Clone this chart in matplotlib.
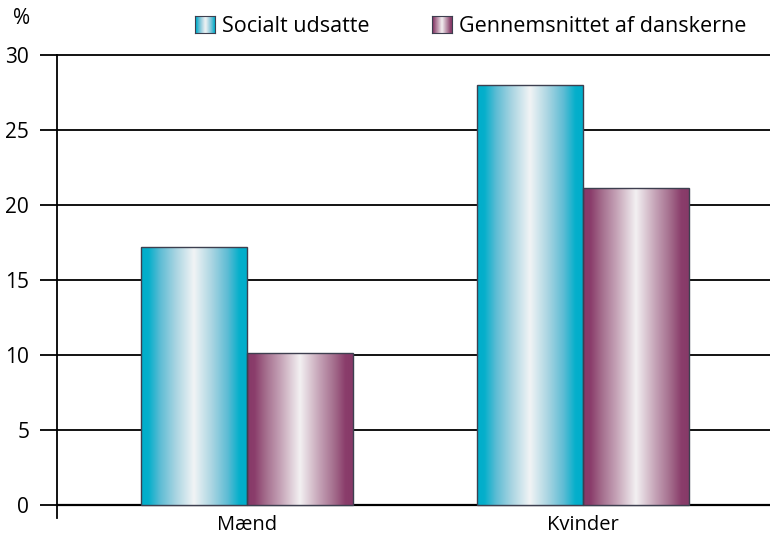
import numpy as np
import matplotlib
matplotlib.use("Agg")
import matplotlib.pyplot as plt
from matplotlib.colors import LinearSegmentedColormap

plt.rcParams['font.family'] = ['Open Sans', 'DejaVu Sans']

# data
categories = ["Mænd", "Kvinder"]
series_names = ["Socialt udsatte", "Gennemsnittet af danskerne"]
socialt_udsatte = [17.2, 28.0]
gennemsnit = [10.1, 21.1]
yticks = [0, 5, 10, 15, 20, 25, 30]

W, H = 770, 535
fig = plt.figure(figsize=(W / 100, H / 100), dpi=100)

# axes placed in pixel terms: left spine x=57, right edge 770, top (30) y=55, bottom y=518
ax = fig.add_axes([57 / W, 1 - 518 / H, (W - 57) / W, (518 - 55) / H])

# gradient colour maps: saturated at the edges, near white in the middle
cyan = LinearSegmentedColormap.from_list(
    "cyan", [(0, "#00aecb"), (0.07, "#05afcb"), (0.18, "#5dbcd4"), (0.32, "#a5d3e1"),
             (0.5, "#f2f4f5"), (0.68, "#a5d3e1"), (0.82, "#5dbcd4"), (0.93, "#05afcb"),
             (1, "#00aecb")])
purple = LinearSegmentedColormap.from_list(
    "purple", [(0, "#873a68"), (0.07, "#8a3d6b"), (0.18, "#a56f8e"), (0.32, "#c6a4b8"),
               (0.5, "#f3f1f2"), (0.68, "#c6a4b8"), (0.82, "#a56f8e"), (0.93, "#8a3d6b"),
               (1, "#873a68")])
grad = np.linspace(0, 1, 256).reshape(1, -1)

x = np.arange(len(categories))
width = 0.315

for i, (vals, cmap) in enumerate([(socialt_udsatte, cyan), (gennemsnit, purple)]):
    pos = x + (i - 0.5) * width
    bars = ax.bar(pos, vals, width, facecolor="none", edgecolor="#3d3f4f",
                  linewidth=1.0, zorder=4)
    for b in bars:
        x0, y0 = b.get_x(), b.get_y()
        ax.imshow(grad, cmap=cmap, aspect="auto", interpolation="bicubic",
                  extent=(x0, x0 + b.get_width(), y0, y0 + b.get_height()), zorder=3)

ax.set_xlim(-0.565, 1.556)
ax.set_ylim(-0.87, 30)

# horizontal lines at each tick, running from the tick mark to the right edge
for t in yticks:
    ax.axhline(t, color="black", linewidth=1.3 if t else 1.6, zorder=2, clip_on=False)

for s in ["top", "right", "bottom"]:
    ax.spines[s].set_visible(False)
ax.spines["left"].set_linewidth(1.3)

ax.set_yticks(yticks)
ax.set_yticklabels([str(t) for t in yticks], fontsize=15)
ax.tick_params(axis="y", length=12, width=1.3, pad=8)
ax.set_xticks([])

# category labels just under the baseline
for xi, lab in zip(x, categories):
    px = ax.transData.transform((xi, 0))[0]
    fig.text(px / W, 1 - 530 / H, lab, fontsize=14.5, ha="center", va="baseline")

fig.text(13 / W, 1 - 24 / H, "%", fontsize=15, ha="left", va="baseline")

# legend drawn by hand so the swatches keep their gradient
legend_items = [(195, series_names[0], cyan), (432, series_names[1], purple)]
for px, label, cmap in legend_items:
    sw = fig.add_axes([px / W, 1 - 33 / H, 20 / W, 17 / H])
    sw.imshow(grad, cmap=cmap, aspect="auto", interpolation="bicubic")
    sw.set_xticks([])
    sw.set_yticks([])
    for sp in sw.spines.values():
        sp.set_edgecolor("#3d3f4f")
        sp.set_linewidth(0.8)
    fig.text((px + 27) / W, 1 - 32 / H, label, fontsize=15.5, ha="left", va="baseline")

fig.savefig("out.png", dpi=100)
